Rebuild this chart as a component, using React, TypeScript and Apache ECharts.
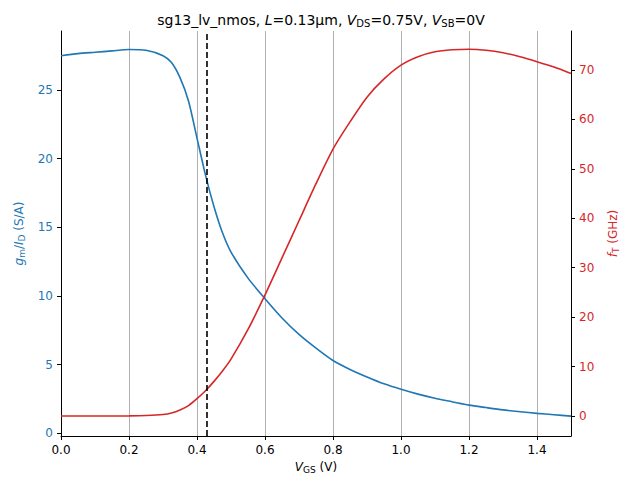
import React, { useEffect, useRef } from "react";
import * as echarts from "echarts";

const vgs = [0, 0.05, 0.1, 0.15, 0.2, 0.25, 0.3, 0.325, 0.35, 0.375, 0.4, 0.425, 0.45, 0.475, 0.5, 0.55, 0.6, 0.65, 0.7, 0.75, 0.8, 0.85, 0.9, 0.95, 1.0, 1.05, 1.1, 1.15, 1.2, 1.25, 1.3, 1.35, 1.4, 1.45, 1.5];
const gmId = [27.5, 27.65, 27.75, 27.85, 27.95, 27.9, 27.5, 27.0, 25.9, 24.2, 21.5, 18.8, 16.5, 14.6, 13.2, 11.3, 9.8, 8.4, 7.2, 6.2, 5.3, 4.65, 4.1, 3.6, 3.2, 2.85, 2.55, 2.3, 2.05, 1.87, 1.7, 1.57, 1.45, 1.35, 1.25];
const fT = [0, 0, 0, 0, 0.02, 0.1, 0.3, 0.6, 1.2, 2.1, 3.5, 5.1, 7, 9.1, 11.5, 17.5, 24.5, 32, 39.5, 47, 54, 59.5, 64.5, 68.2, 71, 72.7, 73.7, 74.1, 74.2, 74.0, 73.5, 72.7, 71.7, 70.6, 69.3];
const leftTicks = [0, 5, 10, 15, 20, 25];
const rightTicks = [0, 10, 20, 30, 40, 50, 60, 70];
const xTicks = [0, 0.2, 0.4, 0.6, 0.8, 1.0, 1.2, 1.4];
const vline = 0.433;

const FONT = "DejaVu Sans";
const BLUE = "#1f77b4";
const RED = "#d62728";

export default function App() {
  const ref = useRef<HTMLDivElement>(null);
  useEffect(() => {
    const chart = echarts.init(ref.current!, null, { renderer: "svg" });
    const sub = (c: string) => ({ fontSize: 9, verticalAlign: "bottom", color: c, fontFamily: FONT, padding: [6, 0, 0, 0] });
    chart.setOption({
      animation: false,
      textStyle: { fontFamily: FONT },
      title: {
        text: "sg13_lv_nmos, {i|L}=0.13µm, {i|V}{s|DS}=0.75V, {i|V}{s|SB}=0V",
        left: 316, top: 7, textAlign: "center",
        textStyle: {
          fontSize: 14, fontWeight: "normal", color: "#000", fontFamily: FONT,
          rich: { i: { fontStyle: "italic", fontSize: 14, color: "#000", fontFamily: FONT }, s: { fontSize: 10, color: "#000", fontFamily: FONT, padding: [6, 0, 0, 0] } },
        },
      },
      grid: { left: 61, right: 59, top: 31, bottom: 55 },
      xAxis: {
        type: "value", min: 0, max: 1.5,
        name: "{i|V}{s|GS} (V)", nameLocation: "middle", nameGap: 22,
        nameTextStyle: { fontSize: 12, color: "#000", rich: { i: { fontStyle: "italic", fontSize: 12, color: "#000" }, s: { fontSize: 9, color: "#000", padding: [6, 0, 0, 0] } } },
        axisLine: { onZero: false, lineStyle: { color: "#000" } },
        axisTick: { customValues: xTicks, length: 4, lineStyle: { color: "#000" } },
        axisLabel: { customValues: xTicks, color: "#000", fontSize: 12, formatter: (v: number) => v.toFixed(1) },
        splitLine: { show: true, lineStyle: { color: "#b0b0b0", width: 1 } },
      },
      yAxis: [
        {
          type: "value", min: -0.2, max: 29.3, position: "left",
          name: "{i|g}{s|m}/{i|I}{s|D} (S/A)", nameLocation: "middle", nameGap: 34, nameRotate: 90,
          nameTextStyle: { fontSize: 12, color: BLUE, rich: { i: { fontStyle: "italic", fontSize: 12, color: BLUE }, s: sub(BLUE) } },
          axisLine: { show: true, lineStyle: { color: "#000" } },
          axisTick: { show: true, customValues: leftTicks, length: 4, lineStyle: { color: "#000" } },
          axisLabel: { customValues: leftTicks, color: BLUE, fontSize: 12 },
          splitLine: { show: false },
        },
        {
          type: "value", min: -4.05, max: 77.9, position: "right",
          name: "{i|f}{s|T} (GHz)", nameLocation: "middle", nameGap: 34, nameRotate: 90,
          nameTextStyle: { fontSize: 12, color: RED, rich: { i: { fontStyle: "italic", fontSize: 12, color: RED }, s: sub(RED) } },
          axisLine: { show: true, lineStyle: { color: "#000" } },
          axisTick: { show: true, customValues: rightTicks, length: 4, lineStyle: { color: "#000" } },
          axisLabel: { customValues: rightTicks, color: RED, fontSize: 12 },
          splitLine: { show: false },
        },
      ],
      series: [
        {
          type: "line", yAxisIndex: 0, data: vgs.map((x, i) => [x, gmId[i]]), showSymbol: false, smooth: 0.25,
          lineStyle: { color: BLUE, width: 1.6 }, itemStyle: { color: BLUE },
          markLine: {
            silent: true, symbol: "none", label: { show: false },
            lineStyle: { color: "#000", type: [6, 3], width: 1.6 },
            data: [{ xAxis: vline }],
          },
        },
        {
          type: "line", yAxisIndex: 1, data: vgs.map((x, i) => [x, fT[i]]), showSymbol: false, smooth: 0.25,
          lineStyle: { color: RED, width: 1.6 }, itemStyle: { color: RED },
        },
      ],
    });
    return () => chart.dispose();
  }, []);
  return <div ref={ref} style={{ width: 630, height: 491, position: "absolute", left: 0, top: 0 }} />;
}
